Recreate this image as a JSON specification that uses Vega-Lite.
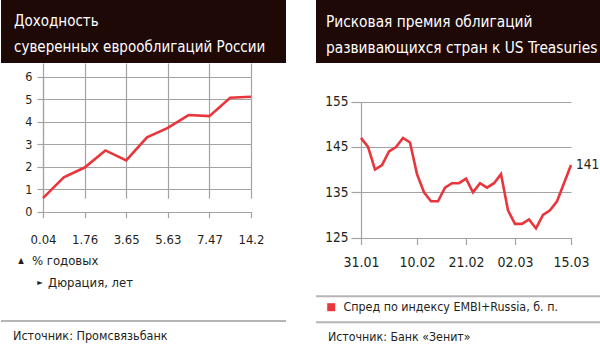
{
  "$schema": "https://vega.github.io/schema/vega-lite/v6.json",
  "padding": 0,
  "background": "white",
  "spacing": 28,
  "config": {
    "view": {"stroke": null},
    "font": "DejaVu Sans Condensed, Roboto, sans-serif",
    "axis": {"labelFont": "DejaVu Sans Condensed, Roboto, sans-serif", "labelColor": "#231f20", "gridColor": "#a3a3a3", "tickColor": "#a3a3a3", "domainColor": "#a3a3a3", "gridWidth": 1.2, "tickWidth": 1.2, "domainWidth": 1.2, "labelOverlap": false, "labelFlush": false, "tickCount": 12},
    "text": {"font": "DejaVu Sans Condensed, Roboto, sans-serif", "color": "#231f20"},
    "legend": {"labelFont": "DejaVu Sans Condensed, Roboto, sans-serif"}
  },
  "hconcat": [
    {
      "spacing": 0,
      "vconcat": [
        {
          "width": 285,
          "height": 63,
          "view": {"fill": "#1f0907", "stroke": null},
          "data": {"values": [{"line": 1, "text": "Доходность"}, {"line": 2, "text": "суверенных еврооблигаций России"}]},
          "mark": {"type": "text", "align": "left", "baseline": "alphabetic", "color": "#ffffff", "fontSize": 15},
          "encoding": {
            "x": {"datum": 0, "type": "quantitative", "scale": {"domain": [0, 1], "range": [13, 285]}, "axis": null},
            "y": {"field": "line", "type": "ordinal", "scale": {"type": "point", "padding": 0, "range": [26, 52]}, "axis": null},
            "text": {"field": "text"}
          }
        },
        {
          "width": 285,
          "height": 148.7,
          "layer": [
            {
              "data": {"values": [
                {"i": 0, "y": 0.6}, {"i": 1, "y": 1.52}, {"i": 2, "y": 1.96}, {"i": 3, "y": 2.72},
                {"i": 4, "y": 2.28}, {"i": 5, "y": 3.3}, {"i": 6, "y": 3.72}, {"i": 7, "y": 4.29},
                {"i": 8, "y": 4.24}, {"i": 9, "y": 5.06}, {"i": 10, "y": 5.1}
              ]},
              "mark": {"type": "line", "color": "#e8363c", "strokeWidth": 2.6},
              "encoding": {
                "x": {"field": "i", "type": "quantitative",
                  "scale": {"domain": [0, 10], "range": [42, 250], "nice": false, "zero": false},
                  "axis": {"title": null, "values": [0, 2, 4, 6, 8, 10], "tickCount": 12, "grid": true, "domain": false, "tickSize": 6, "labelPadding": 22, "labelBaseline": "middle", "labelFontSize": 13, "labelFlush": false,
                    "labelExpr": "datum.value == 0 ? '0.04' : datum.value == 2 ? '1.76' : datum.value == 4 ? '3.65' : datum.value == 6 ? '5.63' : datum.value == 8 ? '7.47' : '14.2'"}},
                "y": {"field": "y", "type": "quantitative",
                  "scale": {"domain": [0, 6], "range": [148.7, 13.5], "nice": false, "zero": false},
                  "axis": {"title": null, "values": [0, 1, 2, 3, 4, 5, 6], "format": "d", "tickCount": 12, "grid": true, "domain": true, "tickSize": 6, "labelPadding": 5, "labelFontSize": 12.5, "labelFlush": false, "offset": -42}}
              }
            },
            {
              "data": {"values": [{}]},
              "mark": {"type": "text", "fontSize": 8, "align": "center", "baseline": "middle"},
              "encoding": {"x": {"datum": -1.058, "type": "quantitative"}, "y": {"datum": -2.19, "type": "quantitative"}, "text": {"value": "▲"}}
            },
            {
              "data": {"values": [{}]},
              "mark": {"type": "text", "fontSize": 13, "align": "left", "baseline": "middle"},
              "encoding": {"x": {"datum": -0.529, "type": "quantitative"}, "y": {"datum": -2.19, "type": "quantitative"}, "text": {"value": "% годовых"}}
            },
            {
              "data": {"values": [{}]},
              "mark": {"type": "text", "fontSize": 8, "align": "center", "baseline": "middle"},
              "encoding": {"x": {"datum": -0.144, "type": "quantitative"}, "y": {"datum": -3.18, "type": "quantitative"}, "text": {"value": "►"}}
            },
            {
              "data": {"values": [{}]},
              "mark": {"type": "text", "fontSize": 13, "align": "left", "baseline": "middle"},
              "encoding": {"x": {"datum": 0.24, "type": "quantitative"}, "y": {"datum": -3.18, "type": "quantitative"}, "text": {"value": "Дюрация, лет"}}
            },
            {
              "data": {"values": [{}]},
              "mark": {"type": "rule", "color": "#b5b5b5", "strokeWidth": 2},
              "encoding": {"y": {"datum": -4.85, "type": "quantitative"}}
            },
            {
              "data": {"values": [{}]},
              "mark": {"type": "text", "fontSize": 12.5, "align": "left", "baseline": "middle"},
              "encoding": {"x": {"datum": -1.442, "type": "quantitative"}, "y": {"datum": -5.52, "type": "quantitative"}, "text": {"value": "Источник: Промсвязьбанк"}}
            }
          ]
        }
      ]
    },
    {
      "spacing": 0,
      "vconcat": [
        {
          "width": 287,
          "height": 63,
          "view": {"fill": "#1f0907", "stroke": null},
          "data": {"values": [{"line": 1, "text": "Рисковая премия облигаций"}, {"line": 2, "text": "развивающихся стран к US Treasuries"}]},
          "mark": {"type": "text", "align": "left", "baseline": "alphabetic", "color": "#ffffff", "fontSize": 15.3},
          "encoding": {
            "x": {"datum": 0, "type": "quantitative", "scale": {"domain": [0, 1], "range": [10, 287]}, "axis": null},
            "y": {"field": "line", "type": "ordinal", "scale": {"type": "point", "padding": 0, "range": [27, 53]}, "axis": null},
            "text": {"field": "text"}
          }
        },
        {
          "width": 287,
          "height": 284,
          "layer": [
            {
              "data": {"values": [
                {"d": "31.01", "v": 147}, {"d": "01.02", "v": 145}, {"d": "02.02", "v": 140}, {"d": "03.02", "v": 141},
                {"d": "04.02", "v": 144}, {"d": "07.02", "v": 145}, {"d": "08.02", "v": 147}, {"d": "09.02", "v": 146},
                {"d": "10.02", "v": 139}, {"d": "11.02", "v": 135}, {"d": "14.02", "v": 133}, {"d": "15.02", "v": 133},
                {"d": "16.02", "v": 136}, {"d": "17.02", "v": 137}, {"d": "18.02", "v": 137}, {"d": "21.02", "v": 138},
                {"d": "22.02", "v": 135}, {"d": "23.02", "v": 137}, {"d": "24.02", "v": 136}, {"d": "25.02", "v": 137},
                {"d": "28.02", "v": 139}, {"d": "01.03", "v": 131}, {"d": "02.03", "v": 128}, {"d": "03.03", "v": 128},
                {"d": "04.03", "v": 129}, {"d": "07.03", "v": 127}, {"d": "09.03", "v": 130}, {"d": "10.03", "v": 131},
                {"d": "11.03", "v": 133}, {"d": "14.03", "v": 137}, {"d": "15.03", "v": 141}
              ]},
              "layer": [
                {
                  "mark": {"type": "line", "strokeWidth": 2.6},
                  "encoding": {
                    "x": {"field": "d", "type": "ordinal",
                      "scale": {"type": "point", "padding": 0, "range": [45, 255],
                        "domain": ["31.01", "01.02", "02.02", "03.02", "04.02", "07.02", "08.02", "09.02", "10.02", "11.02", "14.02", "15.02", "16.02", "17.02", "18.02", "21.02", "22.02", "23.02", "24.02", "25.02", "28.02", "01.03", "02.03", "03.03", "04.03", "07.03", "09.03", "10.03", "11.03", "14.03", "15.03"]},
                      "axis": {"title": null, "values": ["31.01", "10.02", "21.02", "02.03", "15.03"], "grid": false, "domain": false, "tickSize": 7, "labelPadding": 18, "labelBaseline": "middle", "labelFontSize": 14, "labelAngle": 0, "offset": -109.5}},
                    "y": {"field": "v", "type": "quantitative",
                      "scale": {"domain": [125, 155], "range": [174.5, 38.7], "nice": false, "zero": false},
                      "axis": {"title": null, "values": [125, 135, 145, 155], "format": "d", "tickCount": 12, "grid": true, "domain": true, "tickSize": 10, "labelPadding": 3, "labelFontSize": 13.5, "labelFlush": false, "offset": -45}},
                    "color": {"datum": "Спред по индексу EMBI+Russia, б. п.", "type": "nominal",
                      "scale": {"range": ["#e8363c"]},
                      "legend": {"title": null, "orient": "none", "legendX": 324, "legendY": 301, "padding": 0, "symbolType": "square", "symbolSize": 64, "symbolFillColor": "#e8363c", "symbolStrokeWidth": 0, "labelFontSize": 12.4, "labelColor": "#231f20", "labelOffset": 6, "labelLimit": 0}}
                  }
                },
                {
                  "transform": [{"filter": "datum.d === '15.03'"}],
                  "mark": {"type": "text", "align": "left", "baseline": "middle", "dx": 5, "fontSize": 13.5},
                  "encoding": {
                    "x": {"field": "d", "type": "ordinal"},
                    "y": {"field": "v", "type": "quantitative"},
                    "text": {"field": "v", "type": "quantitative"}
                  }
                }
              ]
            },
            {
              "data": {"values": [{}]},
              "mark": {"type": "rule", "color": "#b5b5b5", "strokeWidth": 2},
              "encoding": {"y": {"datum": 112.0, "type": "quantitative"}}
            },
            {
              "data": {"values": [{}]},
              "mark": {"type": "rule", "color": "#b5b5b5", "strokeWidth": 2},
              "encoding": {"y": {"datum": 106.3, "type": "quantitative"}}
            },
            {
              "data": {"values": [{}]},
              "mark": {"type": "text", "fontSize": 12.3, "align": "left", "baseline": "middle", "dx": -33},
              "encoding": {"x": {"datum": "31.01", "type": "ordinal"}, "y": {"datum": 103.1, "type": "quantitative"}, "text": {"value": "Источник: Банк «Зенит»"}}
            }
          ]
        }
      ]
    }
  ]
}
